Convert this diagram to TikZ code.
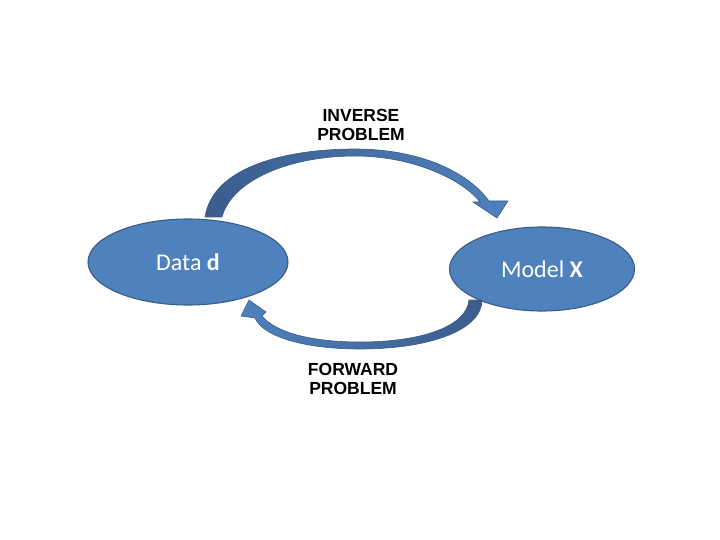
\documentclass[tikz,border=0pt]{standalone}
\usepackage{fontspec}
\setmainfont{Carlito}
\newfontfamily\labelfont{Liberation Sans}
\usetikzlibrary{shapes.geometric}
\definecolor{fillblue}{HTML}{4F81BD}
\definecolor{edgeblue}{HTML}{385D8A}
\definecolor{darkblue}{HTML}{3B5C8C}
\tikzset{
  blob/.style={ellipse, fill=fillblue, draw=edgeblue, line width=1.1pt, text=white, font=\fontsize{24}{27}\selectfont, inner sep=0pt},
  lbl/.style={font=\labelfont\bfseries\fontsize{17.5}{19.5}\selectfont, align=center, text=black},
  arr/.style={draw=edgeblue, line width=0.6pt}
}
\begin{document}
\begin{tikzpicture}[x=1pt,y=-1pt]
\useasboundingbox (0,0) rectangle (720,540);
\node[blob, minimum width=200pt, minimum height=86pt] (data) at (188,262) {Data \textbf{d}};
\node[blob, minimum width=185pt, minimum height=84pt] (model) at (542,269) {Model \textbf{X}};
% upper curved arrow (inverse)
\coordinate (ua) at (205,217);
\coordinate (ub) at (222,217);
\coordinate (utip) at (497,218);
\draw[arr, left color=darkblue, right color=fillblue]
  (ua) .. controls (213,165) and (290,149) .. (355,149)
  .. controls (420,149) and (468,172) .. (489,201)
  -- (508,201) -- (utip) -- (473,202) -- (480,202)
  .. controls (462,179) and (412,156) .. (355,156)
  .. controls (290,156) and (232,180) .. (ub) -- cycle;
% lower curved arrow (forward)
\coordinate (la) at (482,300);
\coordinate (lb) at (469,300);
\coordinate (ltip) at (249,300);
\draw[arr, left color=fillblue, right color=darkblue]
  (la) .. controls (482,330) and (430,349) .. (360,349)
  .. controls (300,349) and (262,335) .. (255,318)
  -- (241,316) -- (ltip) -- (266,312) -- (262,316)
  .. controls (275,332) and (310,342) .. (360,342)
  .. controls (425,342) and (467,325) .. (lb) -- cycle;
\node[lbl] (inv) at (361,125) {INVERSE\\PROBLEM};
\node[lbl] (fwd) at (353,379) {FORWARD\\PROBLEM};
\end{tikzpicture}
\end{document}
